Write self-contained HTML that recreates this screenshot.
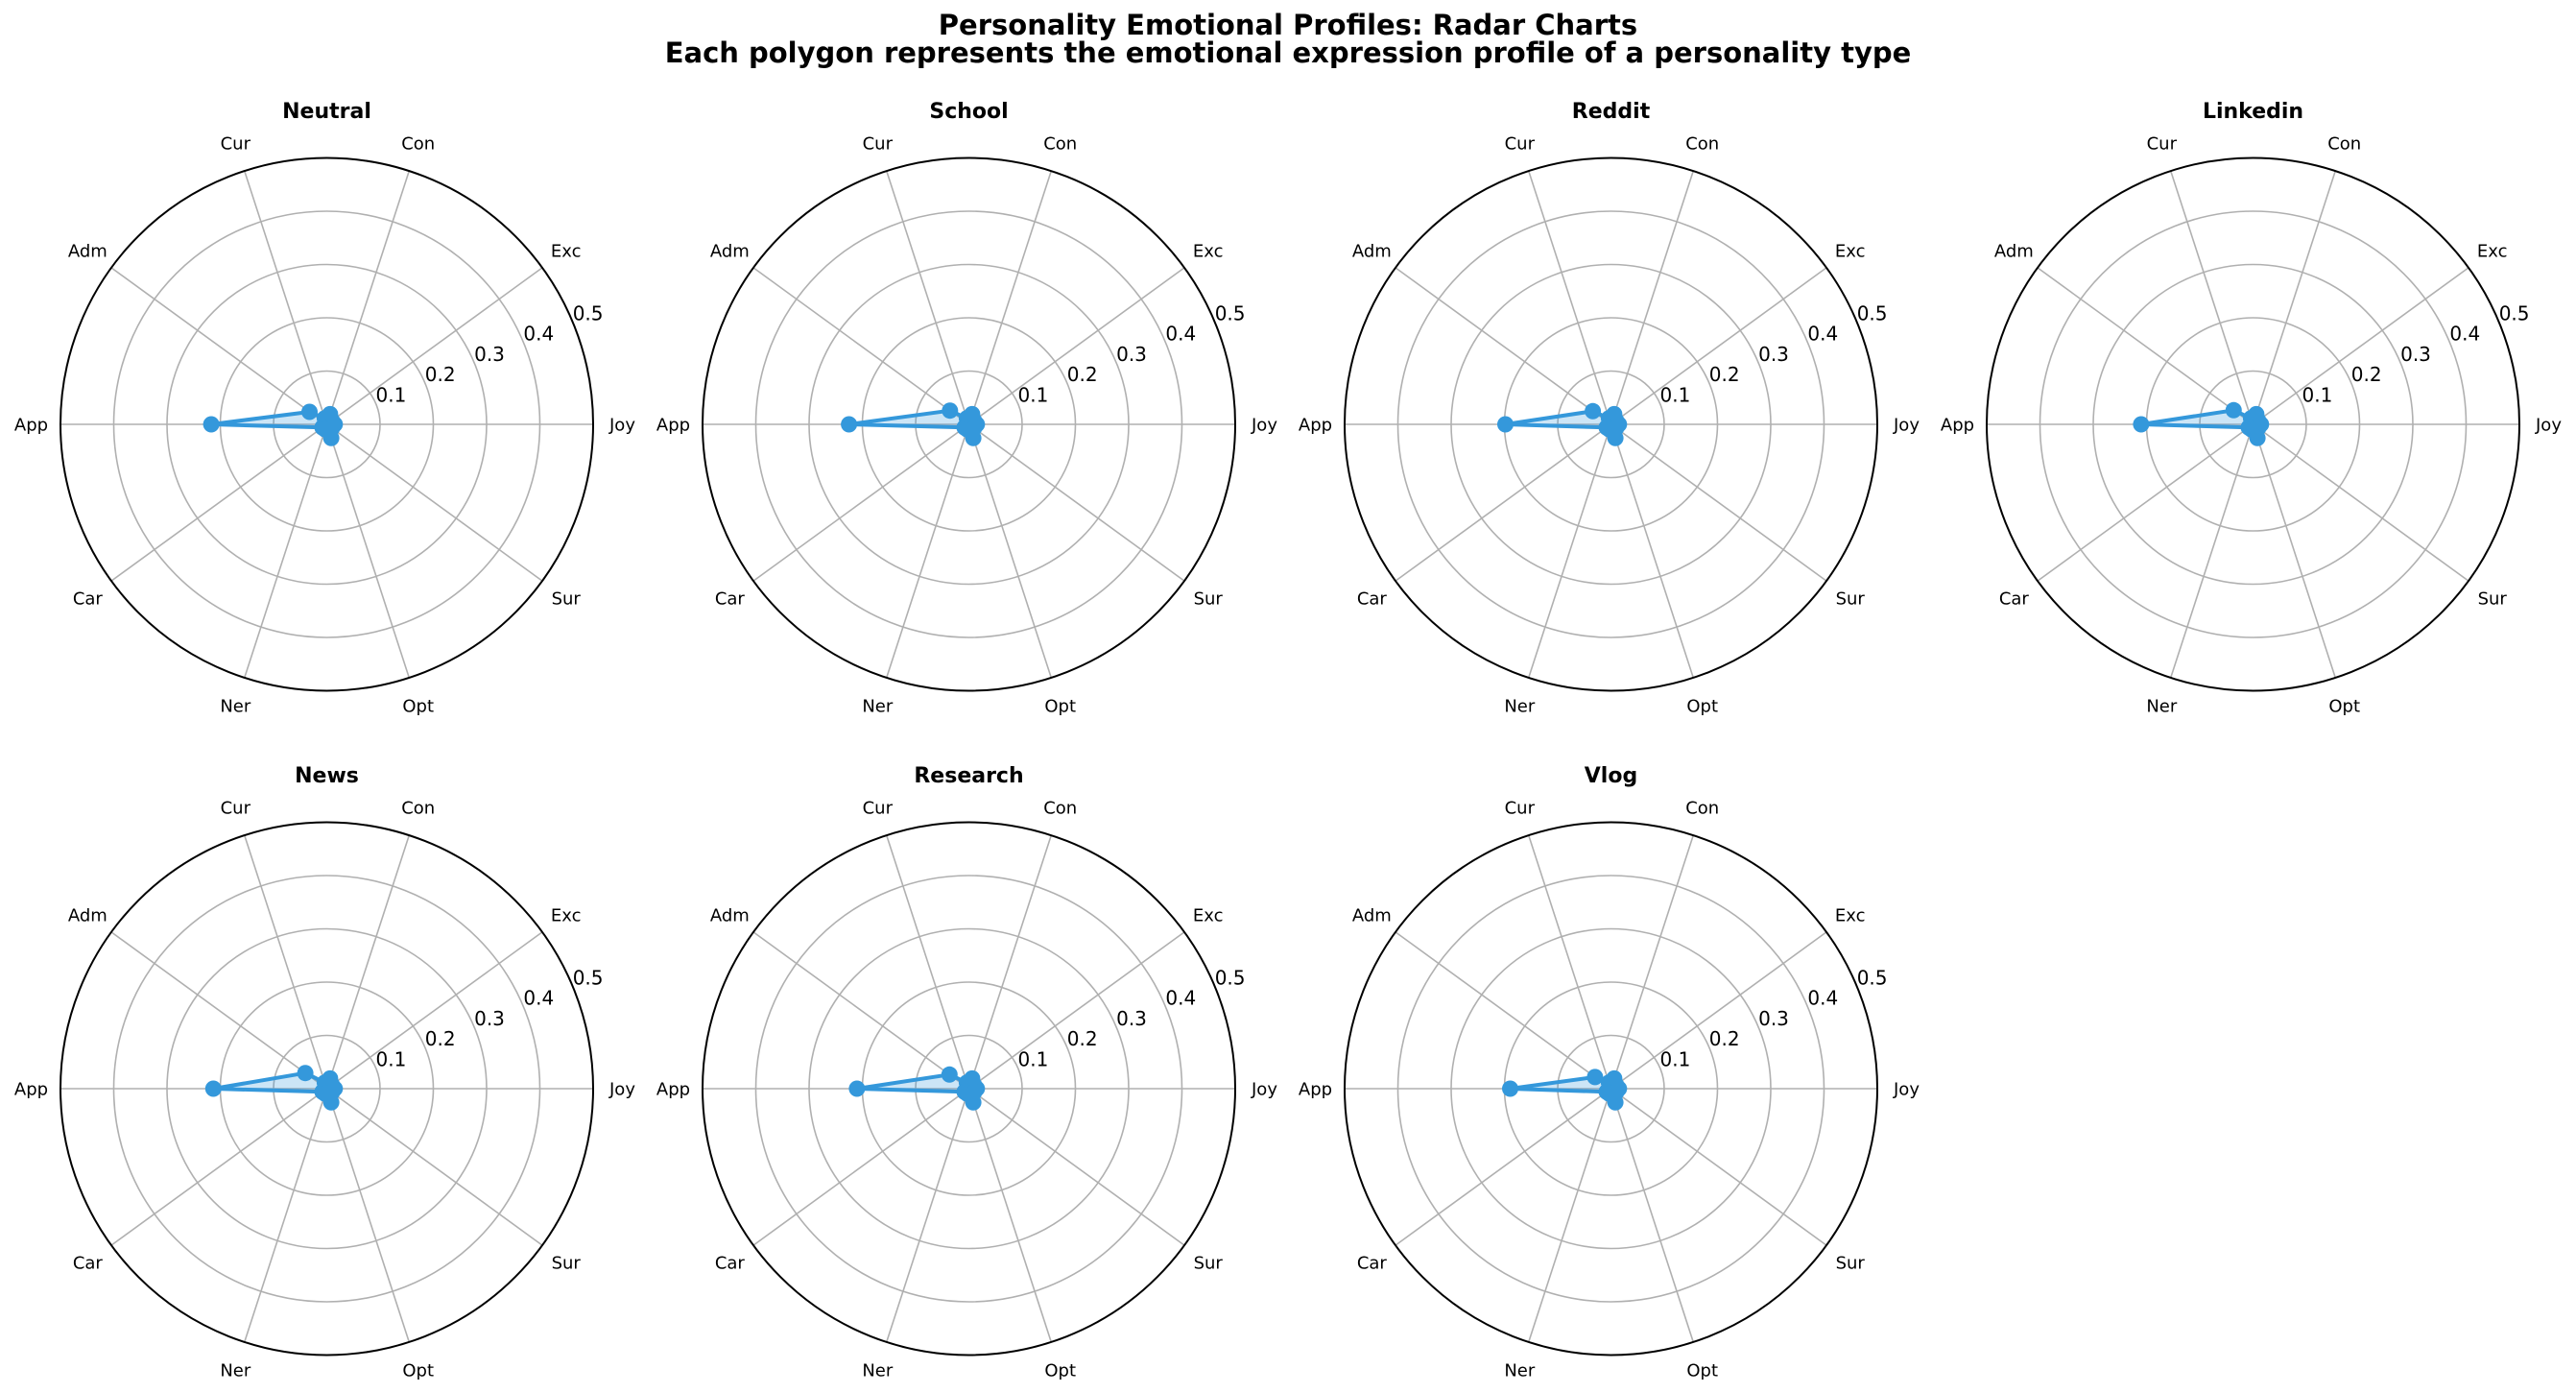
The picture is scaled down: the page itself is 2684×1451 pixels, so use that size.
<!DOCTYPE html>
<html>
<head>
<meta charset="utf-8">
<style>
html,body{margin:0;padding:0;background:#fff;}
svg{display:block;}
text{font-family:"DejaVu Sans","Liberation Sans",sans-serif;fill:#000;}
.t{font-size:29px;font-weight:bold;text-anchor:middle;}
.st{font-size:22px;font-weight:bold;text-anchor:middle;}
.c{font-size:18px;text-anchor:middle;}
.r{font-size:20px;text-anchor:middle;}
</style>
</head>
<body>
<svg width="2684" height="1451" viewBox="0 0 2684 1451" xmlns="http://www.w3.org/2000/svg">
<defs>
<g id="grid">
<g stroke="#b0b0b0" stroke-width="1.6" fill="none">
<circle r="55.5"/><circle r="111"/><circle r="166.5"/><circle r="222"/>
<line x1="0" y1="0" x2="277.5" y2="0"/>
<line x1="0" y1="0" x2="224.5" y2="-163.1"/>
<line x1="0" y1="0" x2="85.75" y2="-263.9"/>
<line x1="0" y1="0" x2="-85.75" y2="-263.9"/>
<line x1="0" y1="0" x2="-224.5" y2="-163.1"/>
<line x1="0" y1="0" x2="-277.5" y2="0"/>
<line x1="0" y1="0" x2="-224.5" y2="163.1"/>
<line x1="0" y1="0" x2="-85.75" y2="263.9"/>
<line x1="0" y1="0" x2="85.75" y2="263.9"/>
<line x1="0" y1="0" x2="224.5" y2="163.1"/>
</g>
<circle r="277.5" stroke="#000" stroke-width="2" fill="none"/>
</g>
<g id="sm" fill="#3498db">
<circle cx="8.3" cy="0" r="8.5"/>
<circle cx="5.4" cy="-3.9" r="8.5"/>
<circle cx="3.4" cy="-10.6" r="8.5"/>
<circle cx="-2.1" cy="-6.3" r="8.5"/>
<circle cx="-4.5" cy="3.3" r="8.5"/>
<circle cx="-1.7" cy="5.3" r="8.5"/>
<circle cx="4.6" cy="14.3" r="8.5"/>
<circle cx="5.4" cy="3.9" r="8.5"/>
</g>
</defs>

<text class="t" x="1342" y="36">Personality Emotional Profiles: Radar Charts</text>
<text class="t" x="1342" y="65">Each polygon represents the emotional expression profile of a personality type</text>

<!-- Chart 1: Neutral -->
<g transform="translate(340.5,442)">
<use href="#grid"/>
<text class="st" x="0" y="-319.2">Neutral</text>
<text class="c" x="308" y="6.5">Joy</text><text class="c" x="249.2" y="-174.5">Exc</text><text class="c" x="95.2" y="-286.4">Con</text><text class="c" x="-95.2" y="-286.4">Cur</text><text class="c" x="-249.2" y="-174.5">Adm</text><text class="c" x="-308" y="6.5">App</text><text class="c" x="-249.2" y="187.5">Car</text><text class="c" x="-95.2" y="299.4">Ner</text><text class="c" x="95.2" y="299.4">Opt</text><text class="c" x="249.2" y="187.5">Sur</text>
<text class="r" x="66.9" y="-23.7">0.1</text><text class="r" x="118.2" y="-45">0.2</text><text class="r" x="169.5" y="-66.2">0.3</text><text class="r" x="220.8" y="-87.5">0.4</text><text class="r" x="272.1" y="-108.7">0.5</text>
<polygon points="8.3,0 5.4,-3.9 3.4,-10.6 -2.1,-6.3 -18,-13 -120.4,0 -4.5,3.3 -1.7,5.3 4.6,14.3 5.4,3.9" fill="#3498db" fill-opacity="0.25" stroke="#3498db" stroke-width="4" stroke-linejoin="round"/>
<use href="#sm"/><circle cx="-18" cy="-13" r="8.5" fill="#3498db"/><circle cx="-120.4" cy="0" r="8.5" fill="#3498db"/>
</g>

<!-- Chart 2: School -->
<g transform="translate(1009.5,442)">
<use href="#grid"/>
<text class="st" x="0" y="-319.2">School</text>
<text class="c" x="308" y="6.5">Joy</text><text class="c" x="249.2" y="-174.5">Exc</text><text class="c" x="95.2" y="-286.4">Con</text><text class="c" x="-95.2" y="-286.4">Cur</text><text class="c" x="-249.2" y="-174.5">Adm</text><text class="c" x="-308" y="6.5">App</text><text class="c" x="-249.2" y="187.5">Car</text><text class="c" x="-95.2" y="299.4">Ner</text><text class="c" x="95.2" y="299.4">Opt</text><text class="c" x="249.2" y="187.5">Sur</text>
<text class="r" x="66.9" y="-23.7">0.1</text><text class="r" x="118.2" y="-45">0.2</text><text class="r" x="169.5" y="-66.2">0.3</text><text class="r" x="220.8" y="-87.5">0.4</text><text class="r" x="272.1" y="-108.7">0.5</text>
<polygon points="8.3,0 5.4,-3.9 3.4,-10.6 -2.1,-6.3 -19.7,-14.3 -124.9,0 -4.5,3.3 -1.7,5.3 4.6,14.3 5.4,3.9" fill="#3498db" fill-opacity="0.25" stroke="#3498db" stroke-width="4" stroke-linejoin="round"/>
<use href="#sm"/><circle cx="-19.7" cy="-14.3" r="8.5" fill="#3498db"/><circle cx="-124.9" cy="0" r="8.5" fill="#3498db"/>
</g>

<!-- Chart 3: Reddit -->
<g transform="translate(1678.5,442)">
<use href="#grid"/>
<text class="st" x="0" y="-319.2">Reddit</text>
<text class="c" x="308" y="6.5">Joy</text><text class="c" x="249.2" y="-174.5">Exc</text><text class="c" x="95.2" y="-286.4">Con</text><text class="c" x="-95.2" y="-286.4">Cur</text><text class="c" x="-249.2" y="-174.5">Adm</text><text class="c" x="-308" y="6.5">App</text><text class="c" x="-249.2" y="187.5">Car</text><text class="c" x="-95.2" y="299.4">Ner</text><text class="c" x="95.2" y="299.4">Opt</text><text class="c" x="249.2" y="187.5">Sur</text>
<text class="r" x="66.9" y="-23.7">0.1</text><text class="r" x="118.2" y="-45">0.2</text><text class="r" x="169.5" y="-66.2">0.3</text><text class="r" x="220.8" y="-87.5">0.4</text><text class="r" x="272.1" y="-108.7">0.5</text>
<polygon points="8.3,0 5.4,-3.9 3.4,-10.6 -2.1,-6.3 -18.9,-13.7 -110,0 -4.5,3.3 -1.7,5.3 4.6,14.3 5.4,3.9" fill="#3498db" fill-opacity="0.25" stroke="#3498db" stroke-width="4" stroke-linejoin="round"/>
<use href="#sm"/><circle cx="-18.9" cy="-13.7" r="8.5" fill="#3498db"/><circle cx="-110" cy="0" r="8.5" fill="#3498db"/>
</g>

<!-- Chart 4: Linkedin -->
<g transform="translate(2347.5,442)">
<use href="#grid"/>
<text class="st" x="0" y="-319.2">Linkedin</text>
<text class="c" x="308" y="6.5">Joy</text><text class="c" x="249.2" y="-174.5">Exc</text><text class="c" x="95.2" y="-286.4">Con</text><text class="c" x="-95.2" y="-286.4">Cur</text><text class="c" x="-249.2" y="-174.5">Adm</text><text class="c" x="-308" y="6.5">App</text><text class="c" x="-249.2" y="187.5">Car</text><text class="c" x="-95.2" y="299.4">Ner</text><text class="c" x="95.2" y="299.4">Opt</text><text class="c" x="249.2" y="187.5">Sur</text>
<text class="r" x="66.9" y="-23.7">0.1</text><text class="r" x="118.2" y="-45">0.2</text><text class="r" x="169.5" y="-66.2">0.3</text><text class="r" x="220.8" y="-87.5">0.4</text><text class="r" x="272.1" y="-108.7">0.5</text>
<polygon points="8.3,0 5.4,-3.9 3.4,-10.6 -2.1,-6.3 -20.2,-14.7 -116.6,0 -4.5,3.3 -1.7,5.3 4.6,14.3 5.4,3.9" fill="#3498db" fill-opacity="0.25" stroke="#3498db" stroke-width="4" stroke-linejoin="round"/>
<use href="#sm"/><circle cx="-20.2" cy="-14.7" r="8.5" fill="#3498db"/><circle cx="-116.6" cy="0" r="8.5" fill="#3498db"/>
</g>

<!-- Chart 5: News -->
<g transform="translate(340.5,1134)">
<use href="#grid"/>
<text class="st" x="0" y="-319.2">News</text>
<text class="c" x="308" y="6.5">Joy</text><text class="c" x="249.2" y="-174.5">Exc</text><text class="c" x="95.2" y="-286.4">Con</text><text class="c" x="-95.2" y="-286.4">Cur</text><text class="c" x="-249.2" y="-174.5">Adm</text><text class="c" x="-308" y="6.5">App</text><text class="c" x="-249.2" y="187.5">Car</text><text class="c" x="-95.2" y="299.4">Ner</text><text class="c" x="95.2" y="299.4">Opt</text><text class="c" x="249.2" y="187.5">Sur</text>
<text class="r" x="66.9" y="-23.7">0.1</text><text class="r" x="118.2" y="-45">0.2</text><text class="r" x="169.5" y="-66.2">0.3</text><text class="r" x="220.8" y="-87.5">0.4</text><text class="r" x="272.1" y="-108.7">0.5</text>
<polygon points="8.3,0 5.4,-3.9 3.4,-10.6 -2.1,-6.3 -22.4,-16.3 -118.2,0 -4.5,3.3 -1.7,5.3 4.6,14.3 5.4,3.9" fill="#3498db" fill-opacity="0.25" stroke="#3498db" stroke-width="4" stroke-linejoin="round"/>
<use href="#sm"/><circle cx="-22.4" cy="-16.3" r="8.5" fill="#3498db"/><circle cx="-118.2" cy="0" r="8.5" fill="#3498db"/>
</g>

<!-- Chart 6: Research -->
<g transform="translate(1009.5,1134)">
<use href="#grid"/>
<text class="st" x="0" y="-319.2">Research</text>
<text class="c" x="308" y="6.5">Joy</text><text class="c" x="249.2" y="-174.5">Exc</text><text class="c" x="95.2" y="-286.4">Con</text><text class="c" x="-95.2" y="-286.4">Cur</text><text class="c" x="-249.2" y="-174.5">Adm</text><text class="c" x="-308" y="6.5">App</text><text class="c" x="-249.2" y="187.5">Car</text><text class="c" x="-95.2" y="299.4">Ner</text><text class="c" x="95.2" y="299.4">Opt</text><text class="c" x="249.2" y="187.5">Sur</text>
<text class="r" x="66.9" y="-23.7">0.1</text><text class="r" x="118.2" y="-45">0.2</text><text class="r" x="169.5" y="-66.2">0.3</text><text class="r" x="220.8" y="-87.5">0.4</text><text class="r" x="272.1" y="-108.7">0.5</text>
<polygon points="8.3,0 5.4,-3.9 3.4,-10.6 -2.1,-6.3 -20.2,-14.7 -116.6,0 -4.5,3.3 -1.7,5.3 4.6,14.3 5.4,3.9" fill="#3498db" fill-opacity="0.25" stroke="#3498db" stroke-width="4" stroke-linejoin="round"/>
<use href="#sm"/><circle cx="-20.2" cy="-14.7" r="8.5" fill="#3498db"/><circle cx="-116.6" cy="0" r="8.5" fill="#3498db"/>
</g>

<!-- Chart 7: Vlog -->
<g transform="translate(1678.5,1134)">
<use href="#grid"/>
<text class="st" x="0" y="-319.2">Vlog</text>
<text class="c" x="308" y="6.5">Joy</text><text class="c" x="249.2" y="-174.5">Exc</text><text class="c" x="95.2" y="-286.4">Con</text><text class="c" x="-95.2" y="-286.4">Cur</text><text class="c" x="-249.2" y="-174.5">Adm</text><text class="c" x="-308" y="6.5">App</text><text class="c" x="-249.2" y="187.5">Car</text><text class="c" x="-95.2" y="299.4">Ner</text><text class="c" x="95.2" y="299.4">Opt</text><text class="c" x="249.2" y="187.5">Sur</text>
<text class="r" x="66.9" y="-23.7">0.1</text><text class="r" x="118.2" y="-45">0.2</text><text class="r" x="169.5" y="-66.2">0.3</text><text class="r" x="220.8" y="-87.5">0.4</text><text class="r" x="272.1" y="-108.7">0.5</text>
<polygon points="8.3,0 5.4,-3.9 3.4,-10.6 -2.1,-6.3 -16.6,-12.1 -105,0 -4.5,3.3 -1.7,5.3 4.6,14.3 5.4,3.9" fill="#3498db" fill-opacity="0.25" stroke="#3498db" stroke-width="4" stroke-linejoin="round"/>
<use href="#sm"/><circle cx="-16.6" cy="-12.1" r="8.5" fill="#3498db"/><circle cx="-105" cy="0" r="8.5" fill="#3498db"/>
</g>
</svg>
</body>
</html>
